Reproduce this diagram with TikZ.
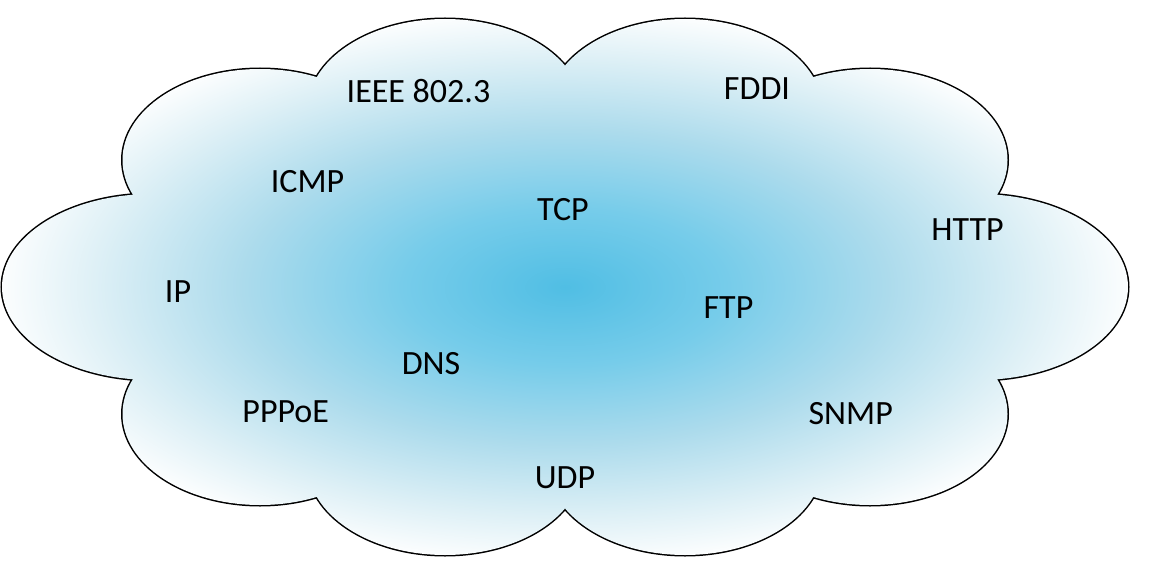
\documentclass[tikz,border=0pt]{standalone}
\usepackage{fontspec}
\setmainfont{Carlito}
\definecolor{cA}{RGB}{80,190,228}
\definecolor{cB}{RGB}{118,204,234}
\definecolor{cC}{RGB}{172,219,236}
\definecolor{cD}{RGB}{222,240,246}
\pgfdeclareradialshading{cloudshade}{\pgfpoint{0bp}{0bp}}{color(0bp)=(cA); color(7bp)=(cB); color(14bp)=(cC); color(20.5bp)=(cD); color(25bp)=(white); color(50bp)=(white)}
\begin{document}
\begin{tikzpicture}[x=1pt,y=-1pt,
  lbl/.style={font=\fontsize{34}{40}\selectfont, anchor=base, inner sep=0pt, text=black}]
\useasboundingbox (0,0) rectangle (1158,572);
% outline strokes (inner half is covered by the fill)
\draw[line width=3pt, black]
  (445,110) ellipse [x radius=137.5, y radius=91]
  (685,110) ellipse [x radius=137.5, y radius=91]
  (260,160) ellipse [x radius=137.5, y radius=91]
  (870,160) ellipse [x radius=137.5, y radius=91]
  (152,287) ellipse [x radius=150, y radius=93]
  (978,287) ellipse [x radius=150, y radius=93]
  (260,414) ellipse [x radius=137.5, y radius=91]
  (870,414) ellipse [x radius=137.5, y radius=91]
  (445,464) ellipse [x radius=137.5, y radius=91]
  (685,464) ellipse [x radius=137.5, y radius=91];
% gradient fill of the union of the lobes
\begin{scope}
\clip
  (445,110) ellipse [x radius=137.5, y radius=91]
  (685,110) ellipse [x radius=137.5, y radius=91]
  (260,160) ellipse [x radius=137.5, y radius=91]
  (870,160) ellipse [x radius=137.5, y radius=91]
  (152,287) ellipse [x radius=150, y radius=93]
  (978,287) ellipse [x radius=150, y radius=93]
  (260,414) ellipse [x radius=137.5, y radius=91]
  (870,414) ellipse [x radius=137.5, y radius=91]
  (445,464) ellipse [x radius=137.5, y radius=91]
  (685,464) ellipse [x radius=137.5, y radius=91]
  (565,287) ellipse [x radius=420, y radius=200];
\shade[shading=cloudshade] (565,287) ellipse [x radius=575, y radius=280];
\end{scope}
% labels
\node[lbl] (ieee)  at (418.5,103) {IEEE 802.3};
\node[lbl] (fddi)  at (757,100)   {FDDI};
\node[lbl] (icmp)  at (307.5,192.7) {ICMP};
\node[lbl] (tcp)   at (563,220)   {TCP};
\node[lbl] (http)  at (967.5,240) {HTTP};
\node[lbl] (ip)    at (178,302)   {IP};
\node[lbl] (ftp)   at (728.5,318.7) {FTP};
\node[lbl] (dns)   at (431,374.7) {DNS};
\node[lbl] (pppoe) at (285.7,422) {PPPoE};
\node[lbl] (snmp)  at (850.7,424.3) {SNMP};
\node[lbl] (udp)   at (565,488.7) {UDP};
\end{tikzpicture}
\end{document}
